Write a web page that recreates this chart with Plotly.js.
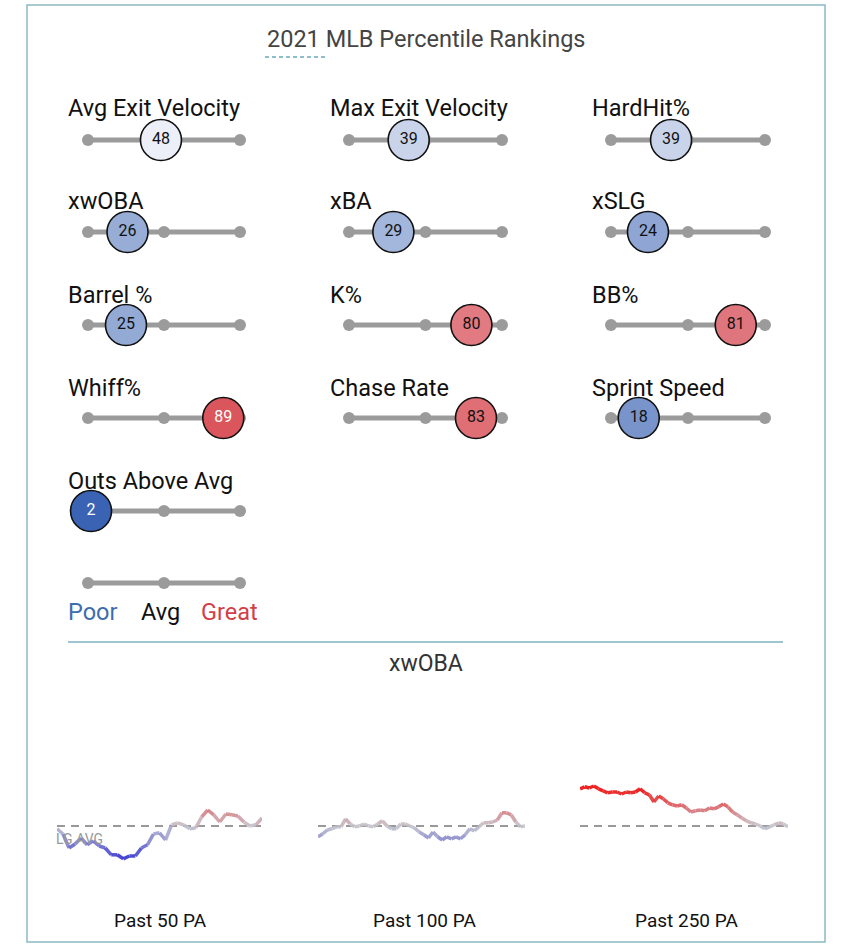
<!DOCTYPE html>
<html><head><meta charset="utf-8">
<script src="https://cdn.plot.ly/plotly-3.0.1.min.js"></script>
<style>html,body{margin:0;padding:0;background:#fff}#chart{width:850px;height:951px}</style>
</head><body><div id="chart"></div>
<script>
// ---------- DATA ----------
const metrics = ["Avg Exit Velocity","Max Exit Velocity","HardHit%","xwOBA","xBA","xSLG","Barrel %","K%","BB%","Whiff%","Chase Rate","Sprint Speed","Outs Above Avg"];
const percentiles = [48,39,39,26,29,24,25,80,81,89,83,18,2];
const scaleTicks = [0,50,100];
const legendLabels = ["Poor","Avg","Great"];
const chartTitle = "2021 MLB Percentile Rankings";
const rollingTitle = "xwOBA";
const lgAvg = 0.315;
const lgAvgLabel = "LG AVG";
const past50 = [.308,.295,.260,.270,.285,.268,.278,.265,.260,.243,.243,.233,.240,.240,.260,.268,.295,.298,.280,.318,.323,.318,.308,.310,.338,.355,.343,.325,.345,.343,.340,.325,.315,.318,.335];
const past100 = [.288,.295,.305,.308,.313,.313,.333,.320,.313,.315,.320,.315,.313,.320,.328,.315,.308,.308,.320,.320,.315,.310,.300,.293,.285,.300,.288,.280,.288,.283,.288,.283,.293,.308,.303,.313,.323,.323,.325,.330,.348,.348,.343,.325,.313,.315];
const past250 = [.408,.413,.410,.415,.408,.403,.398,.400,.400,.395,.400,.398,.400,.408,.398,.393,.375,.390,.383,.373,.368,.365,.368,.360,.350,.353,.355,.353,.360,.358,.363,.370,.363,.350,.343,.335,.328,.323,.320,.315,.308,.313,.318,.323,.320,.313];
const windowLabels = ["Past 50 PA","Past 100 PA","Past 250 PA"];
const rollingSeries = [past50, past100, past250];

// ---------- LAYOUT GEOMETRY ----------
const W = 850, H = 951;
const FONT = "Roboto, 'Open Sans', sans-serif";
const colBar = [[88,240],[349,502],[611,765]];
const colLabelX = [66,328,590];
const rowBarY = [140,232,325,418,511];
const rowLabelY = [108,201,295,388,481];
const legendBarY = 583, legendTextY = 612;
const py = v => 1 - v / H;
const px = v => v / W;

function mix(a, b, t) { return a.map((c, i) => Math.round(c + (b[i] - c) * t)); }
function rgb(c) { return `rgb(${c[0]},${c[1]},${c[2]})`; }
function pctColor(p) {
  const blue = [50, 94, 176], mid = [244, 245, 250], red = [212, 40, 48];
  return p < 50 ? rgb(mix(blue, mid, p / 50)) : rgb(mix(mid, red, (p - 50) / 50));
}
function lineColor(v) {
  const grey = [196, 196, 204], red = [236, 12, 12], blue = [30, 30, 205];
  let t = (v - lgAvg) / 0.09; t = Math.max(-1, Math.min(1, t));
  return t >= 0 ? rgb(mix(grey, red, t)) : rgb(mix(grey, blue, -t));
}

const traces = [];
const layout = {
  width: W, height: H, margin: {l: 0, r: 0, t: 0, b: 0},
  paper_bgcolor: "#fff", plot_bgcolor: "rgba(0,0,0,0)",
  showlegend: false, font: {family: FONT, color: "#111"},
  annotations: [], shapes: []
};
function hiddenAxis(extra) {
  return Object.assign({showgrid: false, zeroline: false, showticklabels: false, showline: false, ticks: "", fixedrange: true}, extra);
}

let axisN = 0;
function addBarAxis(col, barY) {
  axisN++;
  const sfx = axisN === 1 ? "" : axisN;
  layout["xaxis" + sfx] = hiddenAxis({domain: [px(colBar[col][0]), px(colBar[col][1])], range: [0, 100], anchor: "y" + sfx});
  layout["yaxis" + sfx] = hiddenAxis({domain: [py(barY + 22), py(barY - 22)], range: [-1, 1], anchor: "x" + sfx});
  const ref = {xaxis: "x" + sfx, yaxis: "y" + sfx};
  traces.push(Object.assign({
    type: "scatter", mode: "lines+markers", x: scaleTicks, y: scaleTicks.map(() => 0),
    line: {color: "#9b9b9b", width: 5}, marker: {color: "#9b9b9b", size: 12},
    cliponaxis: false, hoverinfo: "skip"
  }, ref));
  return ref;
}

const circleTraces = [];
metrics.forEach((m, i) => {
  const col = i % 3, row = Math.floor(i / 3);
  const ref = addBarAxis(col, rowBarY[row]);
  const p = percentiles[i];
  circleTraces.push(Object.assign({
    type: "scatter", mode: "markers+text", x: [p], y: [0], text: [String(p)],
    textposition: "middle center",
    textfont: {family: FONT, size: 16, color: (p <= 15 || p >= 85) ? "#fff" : "#111"},
    marker: {size: 41, color: pctColor(p), line: {color: "#111", width: 1.6}},
    cliponaxis: false, hoverinfo: "skip"
  }, ref));
  layout.annotations.push({
    xref: "paper", yref: "paper", x: px(colLabelX[col]), y: py(rowLabelY[row]),
    xanchor: "left", yanchor: "middle", showarrow: false, text: m,
    font: {family: FONT, size: 23.5, color: "#111"}
  });
});
// legend scale bar
addBarAxis(0, legendBarY);
traces.push(...circleTraces);
const legendColors = ["#3d6cb0", "#111", "#d13f48"];
const legendX = [[66, "left"], [160, "center"], [260, "right"]];
legendLabels.forEach((t, i) => layout.annotations.push({
  xref: "paper", yref: "paper", x: px(legendX[i][0]), y: py(legendTextY), xanchor: legendX[i][1], yanchor: "middle",
  showarrow: false, text: t, font: {family: FONT, size: 23.5, color: legendColors[i]}
}));

// ---------- ROLLING CHARTS ----------
const rollX = [[57, 262], [318, 525], [580, 788]];
const rollLabelX = [160, 424, 686];
rollingSeries.forEach((s, k) => {
  axisN++;
  const xs = "x" + axisN, ys = "y" + axisN;
  layout["xaxis" + axisN] = hiddenAxis({domain: [px(rollX[k][0]), px(rollX[k][1])], range: [0, s.length - 1], anchor: ys});
  layout["yaxis" + axisN] = hiddenAxis({domain: [py(900), py(740)], range: [0.13, 0.53], anchor: xs});
  const idx = s.map((_, i) => i);
  traces.push({type: "scatter", mode: "lines", x: [0, s.length - 1], y: [lgAvg, lgAvg], xaxis: xs, yaxis: ys,
    line: {color: "#999", width: 2, dash: "8px,6px"}, hoverinfo: "skip"});
  for (let i = 0; i < s.length - 1; i++) {
    traces.push({type: "scatter", mode: "lines", x: [idx[i], idx[i + 1]], y: [s[i], s[i + 1]], xaxis: xs, yaxis: ys,
      line: {color: lineColor((s[i] + s[i + 1]) / 2), width: 3.5}, opacity: 0.9, hoverinfo: "skip", cliponaxis: false});
  }
  if (k === 0) layout.annotations.push({xref: xs, yref: ys, x: 0, y: lgAvg, xanchor: "left", yanchor: "top", yshift: -3, xshift: -3,
    showarrow: false, text: lgAvgLabel, font: {family: FONT, size: 14, color: "#999"}});
  layout.annotations.push({xref: "paper", yref: "paper", x: px(rollLabelX[k]), y: py(920), xanchor: "center", yanchor: "middle",
    showarrow: false, text: windowLabels[k], font: {family: FONT, size: 19, color: "#111"}});
});

// titles & decorations
layout.annotations.push({xref: "paper", yref: "paper", x: px(426), y: py(39), xanchor: "center", yanchor: "middle",
  showarrow: false, text: chartTitle, font: {family: FONT, size: 23.5, color: "#444"}});
layout.annotations.push({xref: "paper", yref: "paper", x: px(426), y: py(663), xanchor: "center", yanchor: "middle",
  showarrow: false, text: rollingTitle, font: {family: FONT, size: 23, color: "#333"}});
layout.shapes.push({type: "rect", xref: "paper", yref: "paper", x0: px(27), x1: px(825), y0: py(942), y1: py(5),
  line: {color: "#8ab9c5", width: 1.5}});
layout.shapes.push({type: "line", xref: "paper", yref: "paper", x0: px(68), x1: px(783), y0: py(642), y1: py(642),
  line: {color: "#7fb3c0", width: 1.5}});
layout.shapes.push({type: "line", xref: "paper", yref: "paper", x0: px(265), x1: px(325), y0: py(57), y1: py(57),
  line: {color: "#6aa9ba", width: 1.5, dash: "4px,3px"}});

Plotly.newPlot("chart", traces, layout, {displayModeBar: false, staticPlot: true});
</script>
</body></html>
